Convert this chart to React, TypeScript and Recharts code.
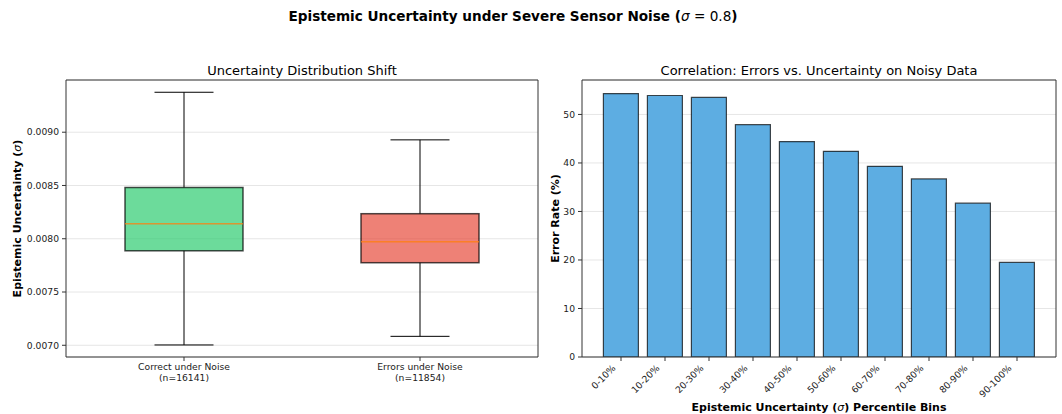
import React from "react";
import {
  Bar,
  BarChart,
  CartesianGrid,
  ComposedChart,
  Label,
  XAxis,
  YAxis,
} from "recharts";

// box plot summary
const boxGroups = ["Correct under Noise", "Errors under Noise"];
const boxCounts = [16141, 11854];
const boxMin = [0.007003, 0.007084];
const boxQ1 = [0.007887, 0.007775];
const boxMedian = [0.008141, 0.007972];
const boxQ3 = [0.008481, 0.008235];
const boxMax = [0.009375, 0.008928];
const boxColors = ["#2ecc71", "#e74c3c"];
const uncertaintyTicks = [0.007, 0.0075, 0.008, 0.0085, 0.009];

// error rate per uncertainty percentile bin
const binLabels = [
  "0-10%",
  "10-20%",
  "20-30%",
  "30-40%",
  "40-50%",
  "50-60%",
  "60-70%",
  "70-80%",
  "80-90%",
  "90-100%",
];
const errorRates = [54.3, 53.9, 53.5, 47.9, 44.4, 42.4, 39.3, 36.7, 31.7, 19.5];
const errorTicks = [0, 10, 20, 30, 40, 50];

const FONT = "'DejaVu Sans', sans-serif";
const SPINE = "#333";
const GRID = "#e6e6e6";
const TICK_SIZE = 9.2;

const boxData = boxGroups.map((name, i) => ({
  name,
  n: boxCounts[i],
  min: boxMin[i],
  q1: boxQ1[i],
  median: boxMedian[i],
  q3: boxQ3[i],
  max: boxMax[i],
  color: boxColors[i],
  range: [boxMin[i], boxMax[i]],
}));

const barData = binLabels.map((bin, i) => ({ bin, rate: errorRates[i] }));

function BoxShape(props: any) {
  const { x, y, width, height, payload } = props;
  const top = Math.min(y, y + height);
  const h = Math.abs(height);
  const span = payload.max - payload.min;
  const toY = (v: number) => top + (h * (payload.max - v)) / span;
  const cx = x + width / 2;
  const cap = width / 4;
  const yMax = toY(payload.max);
  const yQ3 = toY(payload.q3);
  const yMed = toY(payload.median);
  const yQ1 = toY(payload.q1);
  const yMin = toY(payload.min);
  return (
    <g>
      <line x1={cx} x2={cx} y1={yMax} y2={yQ3} stroke="#000" strokeWidth={1} />
      <line x1={cx} x2={cx} y1={yQ1} y2={yMin} stroke="#000" strokeWidth={1} />
      <line x1={cx - cap} x2={cx + cap} y1={yMax} y2={yMax} stroke="#000" strokeWidth={1} />
      <line x1={cx - cap} x2={cx + cap} y1={yMin} y2={yMin} stroke="#000" strokeWidth={1} />
      <rect
        x={x}
        y={yQ3}
        width={width}
        height={yQ1 - yQ3}
        fill={payload.color}
        fillOpacity={0.7}
        stroke="#000"
        strokeOpacity={0.7}
        strokeWidth={1.5}
      />
      <line
        x1={x}
        x2={x + width}
        y1={yMed}
        y2={yMed}
        stroke="#ff7f0e"
        strokeOpacity={0.75}
        strokeWidth={1.5}
      />
    </g>
  );
}

function BoxTick({ x, y, payload }: any) {
  const i = boxGroups.indexOf(payload.value);
  return (
    <text x={x} y={y} textAnchor="middle" fontSize={TICK_SIZE} fontFamily={FONT} fill="#222">
      <tspan x={x} dy={7}>
        {payload.value}
      </tspan>
      <tspan x={x} dy={10.5}>
        (n={boxCounts[i]})
      </tspan>
    </text>
  );
}

function BinTick({ x, y, payload }: any) {
  const ex = x - 4.8;
  const ey = y + 4.8;
  return (
    <text
      x={ex}
      y={ey}
      transform={`rotate(-45 ${ex} ${ey})`}
      textAnchor="end"
      fontSize={TICK_SIZE}
      fontFamily={FONT}
      fill="#222"
    >
      {payload.value}
    </text>
  );
}

function Sigma() {
  return (
    <tspan fontStyle="italic" fontWeight="normal">
      σ
    </tspan>
  );
}

function YLabel(text: string, after: string, bx: number) {
  return ({ viewBox }: any) => {
    const cx = viewBox.x + bx;
    const cy = viewBox.y + viewBox.height / 2;
    return (
      <text
        x={cx}
        y={cy}
        transform={`rotate(-90 ${cx} ${cy})`}
        textAnchor="middle"
        fontSize={11}
        fontWeight="bold"
        fontFamily={FONT}
        fill="#000"
      >
        {text}
        {after ? <Sigma /> : null}
        {after}
      </text>
    );
  };
}

function XBinLabel({ viewBox }: any) {
  const cx = viewBox.x + viewBox.width / 2;
  const y = viewBox.y + viewBox.height - 3;
  return (
    <text x={cx} y={y} textAnchor="middle" fontSize={11} fontWeight="bold" fontFamily={FONT} fill="#000">
      Epistemic Uncertainty (<Sigma />) Percentile Bins
    </text>
  );
}

function UncertaintyBox() {
  return (
    <ComposedChart
      width={540}
      height={414}
      data={boxData}
      margin={{ top: 79, right: 1, bottom: 0, left: 0 }}
      barCategoryGap="25%"
    >
      <CartesianGrid vertical={false} stroke={GRID} />
      <XAxis
        dataKey="name"
        height={57}
        tick={<BoxTick />}
        tickSize={4}
        tickMargin={2}
        tickLine={{ stroke: SPINE }}
        axisLine={{ stroke: SPINE }}
        interval={0}
      />
      <XAxis xAxisId="top" dataKey="name" orientation="top" height={1} tick={false} tickLine={false} axisLine={{ stroke: SPINE }} />
      <YAxis
        width={66}
        domain={[0.00689, 0.00949]}
        ticks={uncertaintyTicks}
        tickFormatter={(v: number) => v.toFixed(4)}
        allowDataOverflow
        tickSize={4}
        tickMargin={3}
        tick={{ fontSize: TICK_SIZE, fontFamily: FONT, fill: "#222" }}
        tickLine={{ stroke: SPINE }}
        axisLine={{ stroke: SPINE }}
      >
        <Label content={YLabel("Epistemic Uncertainty (", ")", 21)} />
      </YAxis>
      <YAxis yAxisId="right" orientation="right" width={1} domain={[0, 1]} tick={false} tickLine={false} axisLine={{ stroke: SPINE }} />
      <Bar dataKey="range" shape={<BoxShape />} isAnimationActive={false} />
    </ComposedChart>
  );
}

function ErrorBars() {
  return (
    <BarChart
      width={522}
      height={414}
      data={barData}
      margin={{ top: 79, right: 5, bottom: 0, left: 0 }}
      barCategoryGap="10%"
    >
      <CartesianGrid vertical={false} stroke={GRID} />
      <XAxis
        dataKey="bin"
        height={57}
        padding={{ left: 17, right: 17 }}
        tick={<BinTick />}
        interval={0}
        tickSize={4}
        tickMargin={3}
        tickLine={{ stroke: SPINE }}
        axisLine={{ stroke: SPINE }}
      >
        <Label content={XBinLabel} />
      </XAxis>
      <XAxis xAxisId="top" dataKey="bin" orientation="top" height={1} tick={false} tickLine={false} axisLine={{ stroke: SPINE }} />
      <YAxis
        width={42}
        domain={[0, 57.1]}
        ticks={errorTicks}
        allowDataOverflow
        tickSize={4}
        tickMargin={3}
        tick={{ fontSize: TICK_SIZE, fontFamily: FONT, fill: "#222" }}
        tickLine={{ stroke: SPINE }}
        axisLine={{ stroke: SPINE }}
      >
        <Label content={YLabel("Error Rate (%)", "", 18.5)} />
      </YAxis>
      <YAxis yAxisId="right" orientation="right" width={1} domain={[0, 1]} tick={false} tickLine={false} axisLine={{ stroke: SPINE }} />
      <Bar
        dataKey="rate"
        fill="#5dade2"
        stroke="#000"
        strokeOpacity={0.7}
        strokeWidth={1.2}
        isAnimationActive={false}
      />
    </BarChart>
  );
}

export default function App() {
  return (
    <div
      style={{
        position: "absolute",
        left: 0,
        top: 0,
        width: 1062,
        height: 414,
        background: "#fff",
        fontFamily: FONT,
      }}
    >
      <div style={{ position: "absolute", left: 0, top: 0 }}>
        <UncertaintyBox />
      </div>
      <div style={{ position: "absolute", left: 540, top: 0 }}>
        <ErrorBars />
      </div>
      <svg
        width={1062}
        height={414}
        style={{ position: "absolute", left: 0, top: 0, pointerEvents: "none" }}
      >
        <text x={513} y={20.5} textAnchor="middle" fontSize={13.6} fontWeight="bold" fontFamily={FONT} fill="#000">
          Epistemic Uncertainty under Severe Sensor Noise (<Sigma />
          <tspan fontWeight="normal"> = 0.8</tspan>)
        </text>
        <text x={302} y={75} textAnchor="middle" fontSize={13} fontFamily={FONT} fill="#000">
          Uncertainty Distribution Shift
        </text>
        <text x={819} y={75} textAnchor="middle" fontSize={13} fontFamily={FONT} fill="#000">
          Correlation: Errors vs. Uncertainty on Noisy Data
        </text>
      </svg>
    </div>
  );
}
